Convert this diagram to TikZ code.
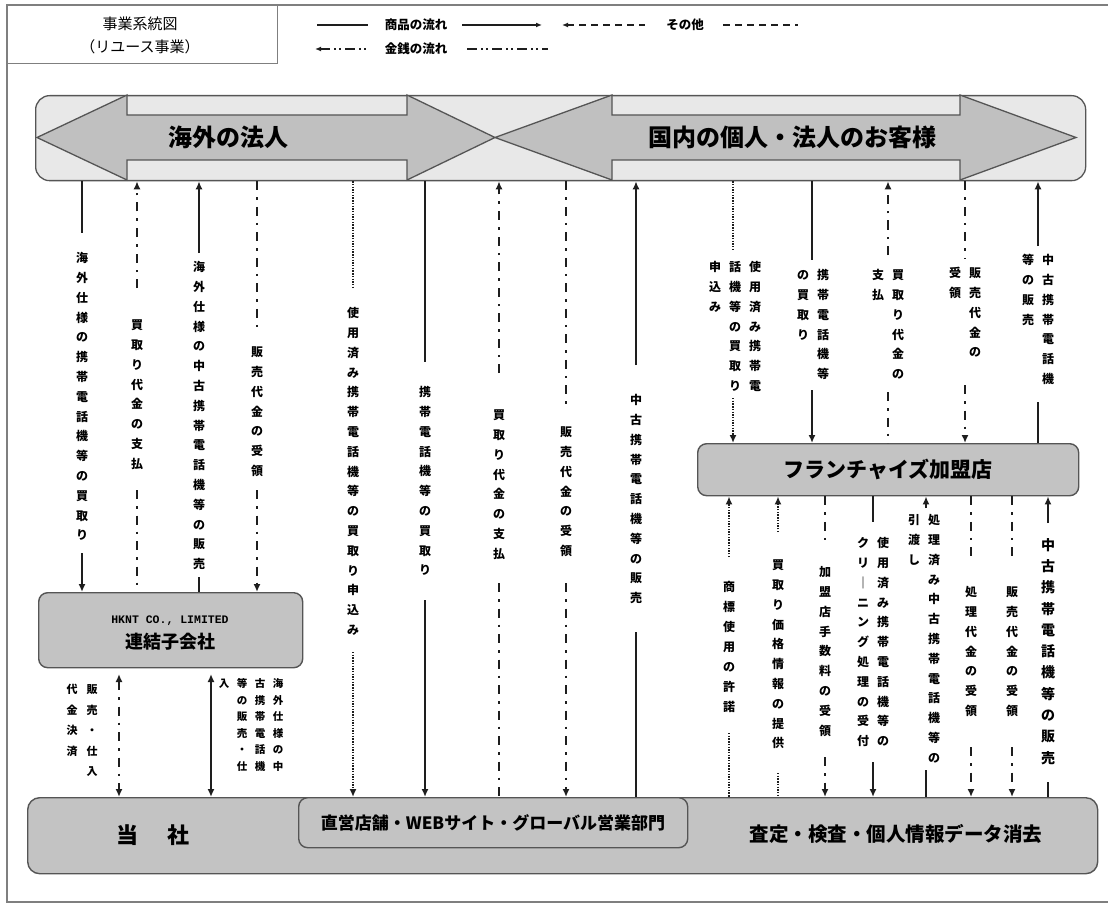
\documentclass[tikz,border=0pt]{standalone}
\usepackage{fontspec}
\usetikzlibrary{arrows.meta}
\newfontfamily\jp{Noto Sans CJK JP}
\newfontfamily\monof{Liberation Mono}
\definecolor{linec}{HTML}{1E1E1E}
\definecolor{edge}{HTML}{555555}
\definecolor{boxfill}{HTML}{C3C3C3}
\definecolor{bannerfill}{HTML}{E8E8E8}
\definecolor{arrowfill}{HTML}{C0C0C0}
\definecolor{framec}{HTML}{7F7F7F}
\newlength\vtstep
\def\vtloop#1{\ifx\relax#1\else\vtcell{#1}\expandafter\vtloop\fi}
\def\vtcell#1{\hbox to 1.1em{\hss\vbox to\vtstep{\vss\hbox{\vrule height .88em depth .12em width 0pt\relax #1}\vss}\hss}}
\newcommand\VT[2][19.8pt]{\vbox{\offinterlineskip\setlength\vtstep{#1}\vtloop#2\relax}}
\begin{document}
\begin{tikzpicture}[x=1pt,y=-1pt,>={Latex[length=8pt,width=7pt]},
 goods/.style={draw=linec, line width=1.8pt},
 money/.style={draw=linec, line width=1.9pt, dash pattern=on 9pt off 7pt on 2.5pt off 7pt},
 other/.style={draw=linec, line width=1.6pt, dash pattern=on 1.4pt off 1.3pt},
 lgdash/.style={draw=linec, line width=1.6pt, dash pattern=on 7pt off 5pt},
 lgmoney/.style={draw=linec, line width=1.6pt, dash pattern=on 10pt off 4pt on 2pt off 3pt on 2pt off 4pt},
 box/.style={draw=edge, fill=boxfill, line width=1.4pt, rounded corners=9pt, anchor=north west, inner sep=0pt},
 vl/.style={anchor=north, inner sep=0pt, font=\jp\bfseries\fontsize{12}{12}\selectfont},
 vlm/.style={vl, font=\jp\bfseries\fontsize{11}{11}\selectfont},
 vls/.style={vl, font=\jp\bfseries\fontsize{10.5}{10.5}\selectfont},
 vlb/.style={vl, font=\jp\bfseries\fontsize{14}{14}\selectfont},
 lg/.style={font=\jp\bfseries\fontsize{12.5}{12.5}\selectfont, inner sep=0pt},
 arrowshape/.style={draw=edge, fill=arrowfill, line width=1.3pt, line join=miter}
]
\useasboundingbox (0,0) rectangle (1108,904);
% frame and title
\draw[framec, line width=1.2pt] (1108,5) -- (7,5) -- (7,902) -- (1108,902);
\node[draw=framec, line width=1.2pt, anchor=north west, minimum width=270pt, minimum height=58pt, inner sep=0pt] (title) at (7,5) {};
\node[font=\jp\fontsize{15}{15}\selectfont, inner sep=0pt] (tt1) at (140,24) {事業系統図};
\node[font=\jp\fontsize{15}{15}\selectfont, inner sep=0pt] (tt2) at (140,47) {（リユース事業）};
% legend
\begin{scope}[>={Latex[length=6pt,width=5pt]}]
\draw[goods] (317,25) -- (368,25);
\node[lg] (lg1) at (416,25) {商品の流れ};
\draw[goods,->] (462,25) -- (542,25);
\draw[lgdash,<-] (562,25) -- (645,25);
\node[lg] (lg2) at (685,25) {その他};
\draw[lgdash] (723,25) -- (798,25);
\draw[lgmoney,<-] (315,49) -- (368,49);
\node[lg] (lg3) at (416,49) {金銭の流れ};
\draw[lgmoney] (467,49) -- (548,49);
\end{scope}
% banner
\node[draw=edge, fill=bannerfill, line width=1.3pt, rounded corners=14pt, minimum width=1050pt, minimum height=85pt, anchor=north west, inner sep=0pt] (banner) at (35,95) {};
\filldraw[arrowshape] (37,137.5) -- (127,95) -- (127,115) -- (407,115) -- (407,95) -- (495,137.5) -- (407,180) -- (407,160) -- (127,160) -- (127,180) -- cycle;
\filldraw[arrowshape] (495,137.5) -- (612,95) -- (612,115) -- (960,115) -- (960,95) -- (1076,137.5) -- (960,180) -- (960,160) -- (612,160) -- (612,180) -- cycle;
\node[font=\jp\bfseries\fontsize{24}{24}\selectfont, inner sep=0pt] (kaigai) at (228,137) {海外の法人};
\node[font=\jp\bfseries\fontsize{24}{24}\selectfont, inner sep=0pt] (kokunai) at (792,137) {国内の個人・法人のお客様};
% boxes
\node[box, minimum width=264pt, minimum height=75pt] (hknt) at (38,592) {};
\node[font=\monof\bfseries\fontsize{11.5}{11.5}\selectfont, inner sep=0pt] (hkntA) at (170,621) {HKNT CO., LIMITED};
\node[font=\jp\bfseries\fontsize{18}{18}\selectfont, inner sep=0pt] (hkntB) at (170,642) {連結子会社};
\node[box, minimum width=381pt, minimum height=52pt] (fc) at (697,443) {};
\node[font=\jp\bfseries\fontsize{21}{21}\selectfont, inner sep=0pt] (fcT) at (888,469) {フランチャイズ加盟店};
\node[box, rounded corners=12pt, minimum width=1070pt, minimum height=76pt] (tosha) at (27,797) {};
\node[box, minimum width=389pt, minimum height=50pt] (chokuei) at (298,797) {};
\node[font=\jp\bfseries\fontsize{22}{22}\selectfont, inner sep=0pt] (toshaT) at (153,835) {当\hspace{29pt}社};
\node[font=\jp\bfseries\fontsize{17}{17}\selectfont, inner sep=0pt] (chokueiT) at (493,823) {直営店舗・WEBサイト・グローバル営業部門};
\node[font=\jp\bfseries\fontsize{19.5}{19.5}\selectfont, inner sep=0pt] (satei) at (896,834) {査定・検査・個人情報データ消去};
% ---- left group
\node[vl] (t1) at (82,248) {\VT{海外仕様の携帯電話機等の買取り}};
\draw[goods] (82,0 |- banner.south) -- (82,233);
\draw[goods,->] (82,553) -- (82,0 |- hknt.north);
\node[vl] (t2) at (137,315) {\VT{買取り代金の支払}};
\draw[money,->] (137,288) -- (137,0 |- banner.south);
\draw[money] (137,490) -- (137,0 |- hknt.north);
\node[vl] (t3) at (199,257) {\VT{海外仕様の中古携帯電話機等の販売}};
\draw[goods,->] (199,253) -- (199,0 |- banner.south);
\draw[goods] (199,577) -- (199,0 |- hknt.north);
\node[vl] (t4) at (257,342) {\VT{販売代金の受領}};
\draw[money] (257,0 |- banner.south) -- (257,328);
\draw[money,->] (257,490) -- (257,0 |- hknt.north);
% ---- below HKNT
\draw[money,<->] (119,674) -- (119,0 |- tosha.north);
\node[vlm] (t5a) at (92,679) {\VT[20.5pt]{販売・仕入}};
\node[vlm] (t5b) at (72,679) {\VT[20.5pt]{代金決済}};
\draw[goods,<->] (211,674) -- (211,0 |- tosha.north);
\node[vls] (t6a) at (278,675) {\VT[16.6pt]{海外仕様の中}};
\node[vls] (t6b) at (260,675) {\VT[16.6pt]{古携帯電話機}};
\node[vls] (t6c) at (242,675) {\VT[16.6pt]{等の販売・仕}};
\node[vls] (t6d) at (224,675) {\VT[16.6pt]{入}};
% ---- middle group
\node[vl] (t7) at (353,303) {\VT{使用済み携帯電話機等の買取り申込み}};
\draw[other] (353,0 |- banner.south) -- (353,288);
\draw[other,->] (353,652) -- (353,0 |- tosha.north);
\node[vl] (t8) at (425,382) {\VT{携帯電話機等の買取り}};
\draw[goods] (425,0 |- banner.south) -- (425,362);
\draw[goods,->] (425,600) -- (425,0 |- tosha.north);
\node[vl] (t9) at (499,405) {\VT{買取り代金の支払}};
\draw[money,->] (499,373) -- (499,0 |- banner.south);
\draw[money] (499,583) -- (499,0 |- tosha.north);
\node[vl] (t10) at (566,422) {\VT{販売代金の受領}};
\draw[money] (566,0 |- banner.south) -- (566,405);
\draw[money,->] (566,583) -- (566,0 |- tosha.north);
\node[vl] (t11) at (636,390) {\VT{中古携帯電話機等の販売}};
\draw[goods,->] (636,365) -- (636,0 |- banner.south);
\draw[goods] (636,632) -- (636,0 |- tosha.north);
% ---- upper right group
\node[vl] (t12a) at (755,257) {\VT{使用済み携帯電}};
\node[vl] (t12b) at (735,257) {\VT{話機等の買取り}};
\node[vl] (t12c) at (715,257) {\VT{申込み}};
\draw[other] (733,0 |- banner.south) -- (733,250);
\draw[other,->] (733,398) -- (733,0 |- fc.north);
\node[vl] (t13a) at (823,265) {\VT{携帯電話機等}};
\node[vl] (t13b) at (803,265) {\VT{の買取り}};
\draw[goods] (812,0 |- banner.south) -- (812,260);
\draw[goods,->] (812,390) -- (812,0 |- fc.north);
\node[vl] (t14a) at (898,265) {\VT{買取り代金の}};
\node[vl] (t14b) at (878,265) {\VT{支払}};
\draw[money,->] (888,255) -- (888,0 |- banner.south);
\draw[money] (888,392) -- (888,0 |- fc.north);
\node[vl] (t15a) at (975,263) {\VT{販売代金の}};
\node[vl] (t15b) at (955,263) {\VT{受領}};
\draw[money] (965,0 |- banner.south) -- (965,258);
\draw[money,->] (965,385) -- (965,0 |- fc.north);
\node[vl] (t16a) at (1048,250) {\VT{中古携帯電話機}};
\node[vl] (t16b) at (1028,250) {\VT{等の販売}};
\draw[goods,->] (1038,246) -- (1038,0 |- banner.south);
\draw[goods] (1038,402) -- (1038,0 |- fc.north);
% ---- lower right group
\node[vl] (t17) at (729,577) {\VT[20pt]{商標使用の許諾}};
\draw[other,->] (729,557) -- (729,0 |- fc.south);
\draw[other] (729,733) -- (729,0 |- tosha.north);
\node[vl] (t18) at (778,555) {\VT{買取り価格情報の提供}};
\draw[other,->] (778,532) -- (778,0 |- fc.south);
\draw[other] (778,773) -- (778,0 |- tosha.north);
\node[vl] (t19) at (825,562) {\VT{加盟店手数料の受領}};
\draw[money] (825,0 |- fc.south) -- (825,543);
\draw[money,->] (825,757) -- (825,0 |- tosha.north);
\node[vl] (t20a) at (883,533) {\VT{使用済み携帯電話機等の}};
\node[vl] (t20b) at (863,533) {\VT{クリ｜ニング処理の受付}};
\draw[goods] (873,0 |- fc.south) -- (873,522);
\draw[goods,->] (873,762) -- (873,0 |- tosha.north);
\node[vl] (t21a) at (934,510) {\VT{処理済み中古携帯電話機等の}};
\node[vl] (t21b) at (914,510) {\VT{引渡し}};
\draw[goods,->] (926,508) -- (926,0 |- fc.south);
\draw[goods] (926,770) -- (926,0 |- tosha.north);
\node[vl] (t22) at (971,582) {\VT{処理代金の受領}};
\draw[money] (971,0 |- fc.south) -- (971,557);
\draw[money,->] (971,747) -- (971,0 |- tosha.north);
\node[vl] (t23) at (1012,582) {\VT{販売代金の受領}};
\draw[money] (1012,0 |- fc.south) -- (1012,557);
\draw[money,->] (1012,747) -- (1012,0 |- tosha.north);
\node[vlb] (t24) at (1048,534) {\VT[21.3pt]{中古携帯電話機等の販売}};
\draw[goods,->] (1048,523) -- (1048,0 |- fc.south);
\draw[goods] (1048,782) -- (1048,0 |- tosha.north);
\end{tikzpicture}
\end{document}
